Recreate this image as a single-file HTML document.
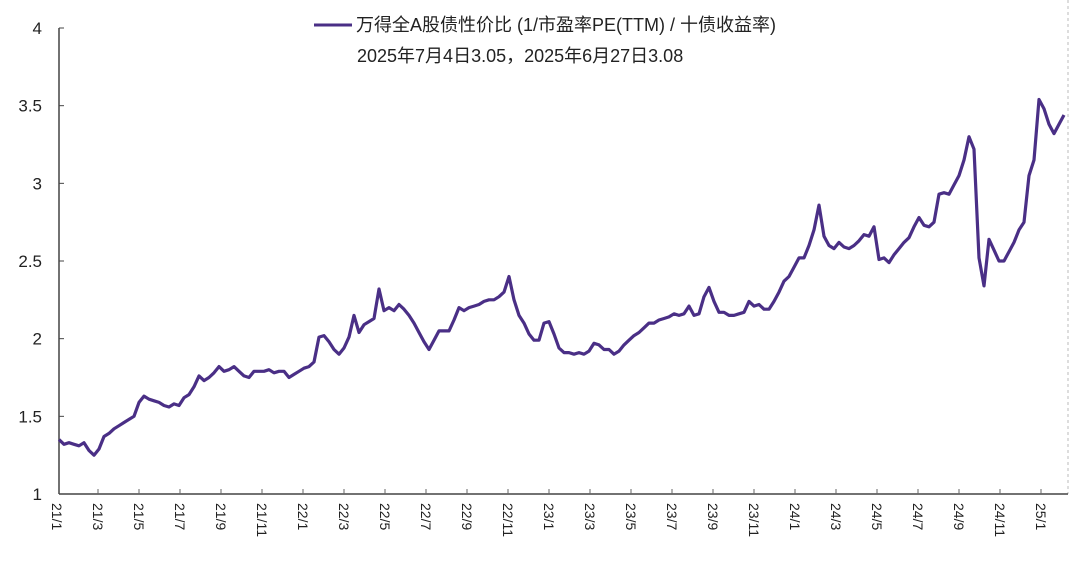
<!DOCTYPE html>
<html><head><meta charset="utf-8"><style>
body{margin:0;background:#fff;}
svg{display:block;font-family:"Liberation Sans","Noto Sans CJK SC",sans-serif;}
</style></head><body>
<svg id="chart" width="1071" height="570"></svg>
<script>
const yTicks=[1,1.5,2,2.5,3,3.5,4];
const monthLabels=["21/1","21/3","21/5","21/7","21/9","21/11","22/1","22/3","22/5","22/7","22/9","22/11","23/1","23/3","23/5","23/7","23/9","23/11","24/1","24/3","24/5","24/7","24/9","24/11","25/1"];
const seriesValues=[1.35,1.32,1.33,1.32,1.31,1.33,1.28,1.25,1.29,1.37,1.39,1.42,1.44,1.46,1.48,1.50,1.59,1.63,1.61,1.60,1.59,1.57,1.56,1.58,1.57,1.62,1.64,1.69,1.76,1.73,1.75,1.78,1.82,1.79,1.80,1.82,1.79,1.76,1.75,1.79,1.79,1.79,1.80,1.78,1.79,1.79,1.75,1.77,1.79,1.81,1.82,1.85,2.01,2.02,1.98,1.93,1.90,1.94,2.01,2.15,2.04,2.09,2.11,2.13,2.32,2.18,2.20,2.18,2.22,2.19,2.15,2.10,2.04,1.98,1.93,1.99,2.05,2.05,2.05,2.12,2.20,2.18,2.20,2.21,2.22,2.24,2.25,2.25,2.27,2.30,2.40,2.25,2.15,2.10,2.03,1.99,1.99,2.10,2.11,2.03,1.94,1.91,1.91,1.90,1.91,1.90,1.92,1.97,1.96,1.93,1.93,1.90,1.92,1.96,1.99,2.02,2.04,2.07,2.10,2.10,2.12,2.13,2.14,2.16,2.15,2.16,2.21,2.15,2.16,2.27,2.33,2.24,2.17,2.17,2.15,2.15,2.16,2.17,2.24,2.21,2.22,2.19,2.19,2.24,2.30,2.37,2.40,2.46,2.52,2.52,2.60,2.70,2.86,2.66,2.60,2.58,2.62,2.59,2.58,2.60,2.63,2.67,2.66,2.72,2.51,2.52,2.49,2.54,2.58,2.62,2.65,2.72,2.78,2.73,2.72,2.75,2.93,2.94,2.93,2.99,3.05,3.15,3.30,3.22,2.52,2.34,2.64,2.57,2.50,2.50,2.56,2.62,2.70,2.75,3.05,3.15,3.54,3.48,3.38,3.32,3.38,3.44];
const startMonth=0.1, monthsPerSample=0.2439;
const NS='http://www.w3.org/2000/svg';
const svg=document.getElementById('chart');
const X0=57,PXM=20.5,Y1=494,PXU=155.33;
const xS=t=>X0+t*PXM;
const yS=v=>Y1-(v-1)*PXU;
function mk(tag,attrs,parent){const e=document.createElementNS(NS,tag);for(const k in attrs)e.setAttribute(k,attrs[k]);(parent||svg).appendChild(e);return e;}
const rb=mk('line',{x1:1068,y1:0,x2:1068,y2:494,stroke:'#bbb','stroke-dasharray':'3,3'});


const ya=mk('line',{x1:59,y1:yS(4),x2:59,y2:Y1,stroke:'#444','stroke-width':1.5});


const xa=mk('line',{x1:59,y1:Y1,x2:1068,y2:Y1,stroke:'#444','stroke-width':1.5});


yTicks.forEach(v=>{
  const tk=mk('line',{x1:59,y1:yS(v),x2:64,y2:yS(v),stroke:'#444'});
  
  
  const t=mk('text',{x:42,y:yS(v)+6,'text-anchor':'end','font-size':17,fill:'#222'});
  t.textContent=String(v);
  
  
});
monthLabels.forEach((lab,i)=>{
  const x=xS(i*2);
  if(i>0){const tk=mk('line',{x1:x,y1:Y1,x2:x,y2:Y1-5,stroke:'#666'});
  
  }
  const t=mk('text',{x:0,y:0,'font-size':14,fill:'#222',transform:`translate(${x-5},503) rotate(90)`});
  t.textContent=lab;
  
  
});
const pts=seriesValues.map((v,i)=>xS(startMonth+i*monthsPerSample).toFixed(1)+','+yS(v).toFixed(1)).join(' ');
const pl=mk('polyline',{points:pts,fill:'none',stroke:'#4a2f86','stroke-width':3.2,'stroke-linejoin':'round'});


const ll=mk('line',{x1:314,y1:25,x2:352,y2:25,stroke:'#4a2f86','stroke-width':3});


const lt=mk('text',{x:356,y:31,'font-size':18,fill:'#222'});
lt.textContent='万得全A股债性价比 (1/市盈率PE(TTM) / 十债收益率)';


const lt2=mk('text',{x:357,y:62,'font-size':18,fill:'#222'});
lt2.textContent='2025年7月4日3.05，2025年6月27日3.08';


</script>
</body></html>
